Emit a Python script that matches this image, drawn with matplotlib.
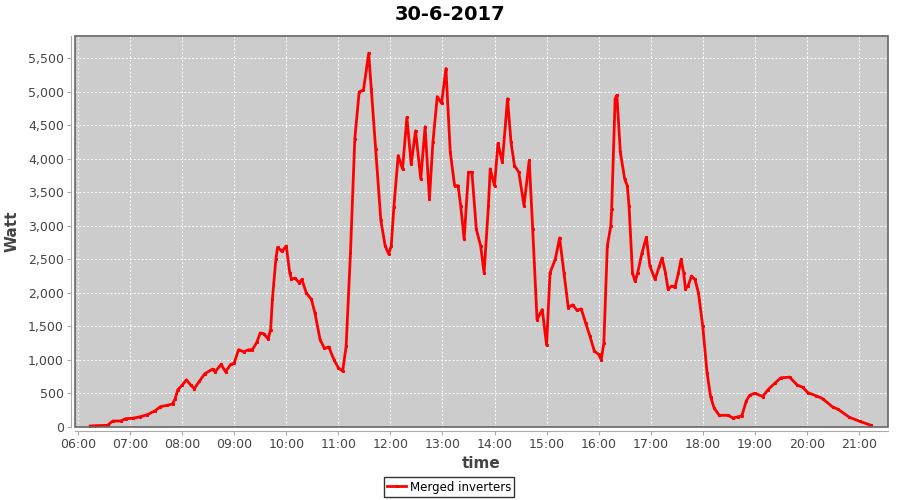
import datetime as dt
import matplotlib
matplotlib.use('Agg')
import matplotlib.pyplot as plt
import matplotlib.dates as mdates
from matplotlib.patches import Rectangle
from matplotlib.ticker import FuncFormatter, MultipleLocator

DAY = '2017-06-30'

# readings (hh:mm, watt)
times = [
    '06:14', '06:20', '06:34', '06:40', '06:49', '06:55', '07:03', '07:12', '07:20', '07:29',
    '07:35', '07:43', '07:49', '07:52', '07:55', '08:00', '08:05', '08:10', '08:14', '08:20',
    '08:26', '08:35', '08:38', '08:45', '08:50', '08:56', '09:00', '09:05', '09:11', '09:17',
    '09:21', '09:26', '09:30', '09:34', '09:39', '09:42', '09:44', '09:48', '09:50', '09:55',
    '10:00', '10:04', '10:06', '10:10', '10:15', '10:18', '10:23', '10:29', '10:33', '10:39',
    '10:44', '10:49', '10:55', '11:00', '11:05', '11:09', '11:14', '11:19', '11:24', '11:29',
    '11:35', '11:38', '11:43', '11:49', '11:54', '11:58', '12:01', '12:04', '12:09', '12:14',
    '12:19', '12:24', '12:29', '12:35', '12:40', '12:45', '12:49', '12:54', '12:59', '13:04',
    '13:09', '13:14', '13:18', '13:21', '13:25', '13:30', '13:34', '13:39', '13:44', '13:48',
    '13:53', '13:55', '14:00', '14:04', '14:09', '14:15', '14:19', '14:23', '14:28', '14:34',
    '14:40', '14:44', '14:49', '14:55', '15:00', '15:04', '15:10', '15:15', '15:20', '15:25',
    '15:30', '15:35', '15:40', '15:45', '15:50', '15:55', '16:00', '16:03', '16:06', '16:10',
    '16:14', '16:15', '16:19', '16:21', '16:25', '16:30', '16:33', '16:35', '16:39', '16:42',
    '16:45', '16:50', '16:55', '16:59', '17:05', '17:10', '17:13', '17:17', '17:20', '17:24',
    '17:28', '17:32', '17:35', '17:38', '17:40', '17:43', '17:47', '17:51', '17:55', '18:00',
    '18:05', '18:09', '18:13', '18:19', '18:29', '18:35', '18:41', '18:45', '18:50', '18:54',
    '19:00', '19:09', '19:15', '19:23', '19:30', '19:40', '19:49', '19:55', '20:01', '20:11',
    '20:18', '20:30', '20:36', '20:49', '21:01', '21:14',
]
watt = [
    10, 15, 20, 85, 85, 120, 125, 150, 180, 240,
    300, 320, 340, 420, 550, 620, 700, 620, 570, 680,
    790, 860, 820, 930, 820, 930, 950, 1150, 1120, 1150,
    1150, 1260, 1400, 1390, 1310, 1450, 1900, 2500, 2680, 2620,
    2700, 2300, 2200, 2220, 2150, 2200, 2000, 1900, 1700, 1300,
    1170, 1190, 1000, 880, 830, 1200, 2600, 4300, 5000, 5030,
    5580, 5050, 4150, 3080, 2700, 2580, 2700, 3280, 4050, 3850,
    4620, 3920, 4420, 3700, 4480, 3400, 4250, 4930, 4830, 5350,
    4100, 3600, 3600, 3300, 2800, 3800, 3800, 2950, 2700, 2300,
    3300, 3850, 3600, 4230, 3950, 4900, 4250, 3900, 3800, 3300,
    3980, 2950, 1600, 1750, 1220, 2300, 2500, 2820, 2300, 1780,
    1820, 1740, 1760, 1550, 1350, 1130, 1080, 1000, 1250, 2700,
    3000, 3250, 4900, 4950, 4100, 3700, 3600, 3300, 2300, 2170,
    2300, 2600, 2830, 2400, 2200, 2400, 2520, 2300, 2050, 2100,
    2080, 2300, 2500, 2300, 2060, 2100, 2250, 2200, 2000, 1500,
    800, 450, 280, 170, 170, 130, 150, 160, 380, 470,
    500, 450, 550, 650, 730, 740, 620, 590, 510, 460,
    420, 290, 260, 140, 80, 20,
]

x = [dt.datetime.strptime(DAY + ' ' + t, '%Y-%m-%d %H:%M') for t in times]

GREY = '#444444'

fig = plt.figure(figsize=(9, 5), dpi=100)
ax = fig.add_axes([0.0833, 0.1466, 0.9034, 0.782])
ax.set_facecolor('#cccccc')

ax.plot(x, watt, color='#ff0000', lw=2, marker='s', ms=1.2, label='Merged inverters')

ax.set_xlim(dt.datetime(2017, 6, 30, 5, 56, 30), dt.datetime(2017, 6, 30, 21, 33, 30))
ax.set_ylim(0, 5840)

ax.xaxis.set_major_locator(mdates.HourLocator())
ax.xaxis.set_major_formatter(mdates.DateFormatter('%H:%M'))
ax.yaxis.set_major_locator(MultipleLocator(500))
ax.yaxis.set_major_formatter(FuncFormatter(lambda v, p: f'{int(v):,}'))

ax.grid(True, color='white', ls=(0, (2, 2)), lw=0.7)
ax.tick_params(colors='#aaaaaa', labelcolor=GREY, labelsize=9, length=3, direction='out', pad=2)

# jfreechart style: axis lines sit a few pixels off the plot frame
for side in ['top', 'right']:
    ax.spines[side].set_visible(False)
for side in ['left', 'bottom']:
    ax.spines[side].set_position(('outward', 3))
    ax.spines[side].set_color('#aaaaaa')
ax.add_patch(Rectangle((0, 0), 1, 1, transform=ax.transAxes, fill=False,
                       edgecolor='#666666', lw=1.2, clip_on=False, zorder=5))

fig.text(0.5, 0.972, '30-6-2017', ha='center', va='center', fontsize=14, fontweight='bold')
ax.set_xlabel('time', fontsize=11, fontweight='bold', color=GREY, labelpad=4)
ax.set_ylabel('Watt', fontsize=11, fontweight='bold', color=GREY)
ax.yaxis.set_label_coords(-0.068, 0.5)

leg = fig.legend(loc='upper center', frameon=True, fancybox=False, borderaxespad=0,
                 fontsize=8.5, handlelength=1.6, borderpad=0.3, handletextpad=0.3)
leg.set_bbox_to_anchor((449 / 900, 1 - 477 / 500), transform=fig.transFigure)
leg.get_frame().set_edgecolor('black')
leg.get_frame().set_linewidth(1)

fig.savefig('out.png', dpi=100)
